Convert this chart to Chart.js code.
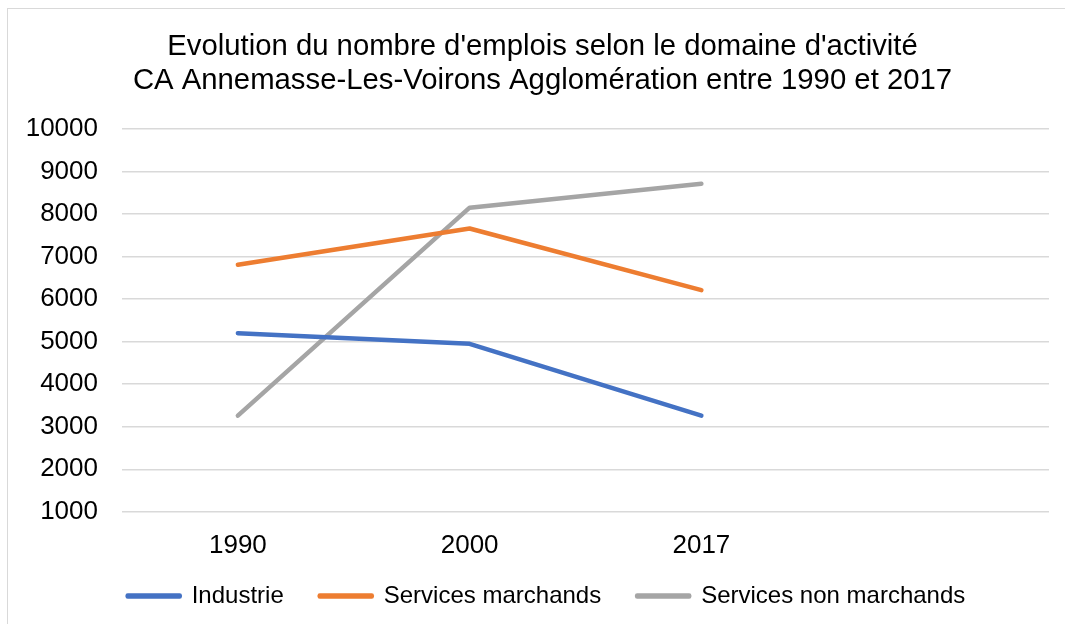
<!DOCTYPE html>
<html lang="fr">
<head>
  <meta charset="UTF-8">
  <title>Evolution du nombre d'emplois</title>
  <script src="https://cdn.jsdelivr.net/npm/chart.js"></script>
  <style>
    body {
      margin: 0;
      background: #fff;
      overflow: hidden;
    }
    #wrap {
      position: relative;
      width: 1065px;
      height: 624px;
    }
    #frame {
      position: absolute;
      left: 7px;
      top: 8px;
      width: 1100px;
      height: 700px;
      border: 1px solid #d9d9d9;
      pointer-events: none;
    }
    canvas {
      position: absolute;
      left: 0;
      top: 0;
    }
  </style>
</head>
<body>
<div id="wrap">
  <canvas id="lineChart" width="1065" height="624"></canvas>
  <div id="frame"></div>
</div>

<script>
  // values
  const years = ['1990', '2000', '2017', ''];
  const industrie = [5200, 4950, 3260];
  const servicesMarchands = [6810, 7660, 6210];
  const servicesNonMarchands = [3260, 8150, 8710];
  const yTicks = { min: 1000, max: 10000, step: 1000 };

  const font = "'Liberation Sans', Arial, sans-serif";

  // legend items are spaced wide, but the block takes little room in the layout;
  // title and legend are nudged right like in the original image
  const placeBlocks = {
    id: 'placeBlocks',
    beforeInit(chart) {
      const origFit = chart.legend.fit;
      chart.legend.fit = function () {
        origFit.bind(chart.legend)();
        this.height = 53;
      };
    },
    afterLayout(chart) {
      const lg = chart.legend;
      lg.top -= 23;
      lg.height = 96;
      lg.bottom = lg.top + lg.height;
      lg.left += 22;
      lg.right += 22;
      const tb = chart.titleBlock;
      tb.left += 18;
      tb.right += 18;
    }
  };

  function series(label, data, color) {
    return {
      label,
      data,
      borderColor: color,
      backgroundColor: color,
      borderWidth: 4.5,
      borderCapStyle: 'round',
      borderJoinStyle: 'round',
      pointRadius: 0,
      tension: 0
    };
  }

  new Chart(document.getElementById('lineChart'), {
    type: 'line',
    data: {
      labels: years,
      datasets: [
        series('Industrie', industrie, '#4472C4'),
        series('Services marchands', servicesMarchands, '#ED7D31'),
        series('Services non marchands', servicesNonMarchands, '#A5A5A5')
      ]
    },
    options: {
      responsive: false,
      animation: false,
      layout: { padding: { left: 0, right: 16, top: 0, bottom: 0 } },
      scales: {
        x: {
          offset: true,
          grid: { display: false },
          border: { display: false },
          ticks: { color: '#000', font: { family: font, size: 26 }, padding: 10, maxRotation: 0, autoSkip: false }
        },
        y: {
          min: yTicks.min,
          max: yTicks.max,
          grid: { color: '#d9d9d9', lineWidth: 1.5, drawTicks: false },
          border: { display: false },
          ticks: {
            stepSize: yTicks.step,
            color: '#000',
            font: { family: font, size: 26 },
            padding: 24,
            callback: v => String(v)
          },
          afterFit(scale) { scale.width = 122; }
        }
      },
      plugins: {
        title: {
          display: true,
          text: ["Evolution du nombre d'emplois selon le domaine d'activité",
                 'CA Annemasse-Les-Voirons Agglomération entre 1990 et 2017'],
          color: '#000',
          font: { family: font, size: 29.3, weight: 'normal', lineHeight: 1.16 },
          padding: { top: 30, bottom: 31 }
        },
        legend: {
          position: 'bottom',
          labels: {
            color: '#000',
            font: { family: font, size: 24 },
            boxWidth: 52,
            boxHeight: 1,
            padding: 36
          }
        },
        tooltip: { enabled: false }
      }
    },
    plugins: [placeBlocks]
  });
</script>
</body>
</html>
